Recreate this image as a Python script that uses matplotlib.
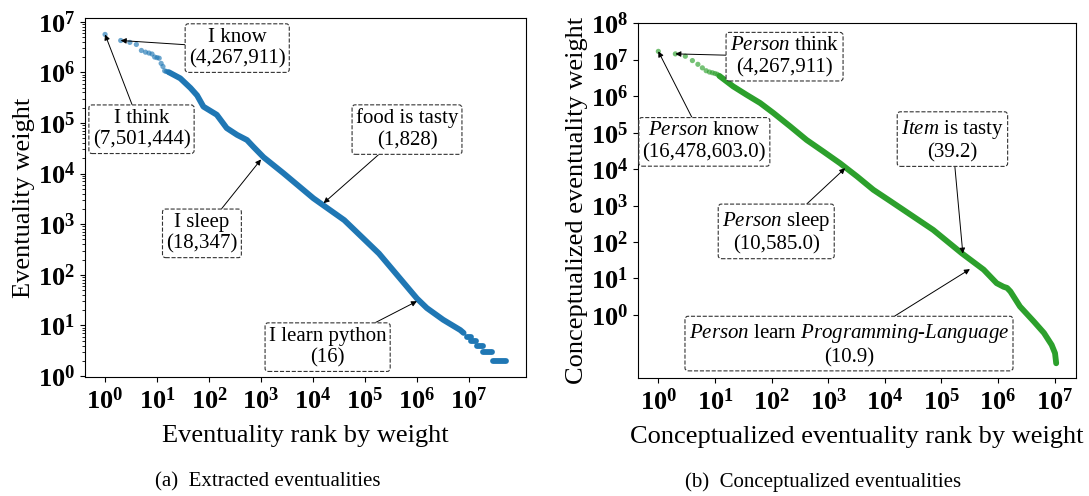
import numpy as np
import matplotlib
matplotlib.use('Agg')
import matplotlib.pyplot as plt
from matplotlib.ticker import FuncFormatter, NullLocator, LogLocator, NullFormatter

plt.rcParams['font.family'] = ['Liberation Serif', 'DejaVu Serif']
plt.rcParams['mathtext.fontset'] = 'custom'
plt.rcParams['mathtext.rm'] = 'Liberation Serif'
plt.rcParams['mathtext.it'] = 'Liberation Serif:italic'
plt.rcParams['mathtext.bf'] = 'Liberation Serif:bold'

##############################################################################
# Data
##############################################################################

# (a) extracted eventualities: first few ranks are separate dots
ext_head_rank = [1, 2, 3, 4, 5, 6, 7, 8, 9, 10, 11, 12, 13, 14, 15, 16, 17]
ext_head_weight = [5.6e6, 4.25e6, 3.9e6, 3.55e6, 2.7e6, 2.5e6, 2.4e6, 2.3e6,
                   2.0e6, 1.95e6, 1.9e6, 1.5e6, 1.3e6, 1.07e6, 1.04e6,
                   1.02e6, 1.0e6]

# dense part of the curve
ext_body_rank = [17, 28, 44, 59, 78, 141, 219, 347, 537, 708, 1120, 2690,
                 1.02e4, 4.0e4, 1.86e5, 1.0e6, 1.55e6, 3.2e6, 6.8e6, 7.9e6]
ext_body_weight = [1.0e6, 7.6e5, 4.9e5, 3.5e5, 2.1e5, 1.45e5, 7.9e4, 5.8e4,
                   4.6e4, 3.4e4, 2.1e4, 1.02e4, 3240, 1200, 263, 34, 22,
                   12.9, 8.1, 7.1]

# integer weights at the tail (plateaus)
ext_step_weight = [6, 5, 4, 3, 2]
ext_step_from = [9.3e6, 1.1e7, 1.41e7, 1.9e7, 2.9e7]
ext_step_to = [1.1e7, 1.38e7, 1.86e7, 2.75e7, 5.2e7]

ext_notes = ['I know\n(4,267,911)', 'I think\n(7,501,444)',
             'I sleep\n(18,347)', 'food is tasty\n(1,828)',
             'I learn python\n(16)']
ext_note_rank = [2, 1, 1000, 1.6e4, 1.0e6]
ext_note_weight = [4.25e6, 5.6e6, 1.9e4, 2.6e3, 30]

# (b) conceptualized eventualities
con_head_rank = [1, 2, 3, 4, 5, 6, 7, 8, 9, 10, 11, 12]
con_head_weight = [1.7e7, 1.45e7, 1.25e7, 9.5e6, 7.5e6, 6.0e6, 5.0e6,
                   4.6e6, 4.4e6, 4.2e6, 4.0e6, 3.6e6]

con_body_rank = [12, 21, 36, 63, 107, 214, 417, 832, 1620, 3240, 6300,
                 1.26e4, 7.2e4, 2.3e5, 5.6e5, 9.5e5, 1.26e6, 1.45e6, 1.66e6,
                 2.45e6, 4.3e6, 6.5e6, 8.9e6, 1.02e7, 1.07e7]
con_body_weight = [3.6e6, 1.86e6, 1.1e6, 6.5e5, 3.5e5, 1.48e5, 6.3e4, 3.0e4,
                   1.45e4, 6300, 2700, 1320, 214, 49, 17.4, 7.4, 5.9, 5.5,
                   4.4, 1.7, 0.66, 0.32, 0.15, 0.089, 0.047]

con_notes = ['$\\it{Person}$ think\n(4,267,911)',
             '$\\it{Person}$ know\n(16,478,603.0)',
             '$\\it{Person}$ sleep\n(10,585.0)',
             '$\\it{Item}$ is tasty\n(39.2)',
             '$\\it{Person}$ learn $\\it{Programming}$-$\\it{Language}$\n(10.9)']
con_note_rank = [2, 1, 2000, 2.4e5, 3.2e5]
con_note_weight = [1.45e7, 1.7e7, 10585, 48, 18]

##############################################################################
# Plotting
##############################################################################

def pow_label(v, pos):
    return r'$\mathbf{10^{%d}}$' % int(round(np.log10(v)))

def note(ax, text, xy, xytext):
    ax.annotate(text, xy=xy, xycoords='data', xytext=xytext,
                textcoords='axes fraction', ha='center', va='center',
                fontsize=15,
                bbox=dict(boxstyle='round,pad=0.18,rounding_size=0.15',
                          fc='white', ec='#333333', ls='--', lw=0.8),
                arrowprops=dict(arrowstyle='-|>', color='black', lw=0.7,
                                mutation_scale=8, shrinkA=0, shrinkB=0))

fig = plt.figure(figsize=(10.89, 4.96), dpi=100)
ax1 = fig.add_axes([0.0781, 0.2393, 0.4050, 0.7238])
ax2 = fig.add_axes([0.5856, 0.2373, 0.4025, 0.7157])

blue = '#1f77b4'
green = '#2ca02c'

# left panel
ax1.plot(ext_body_rank, ext_body_weight, color=blue, lw=4.2,
         solid_capstyle='round')
for w, a, b in zip(ext_step_weight, ext_step_from, ext_step_to):
    ax1.plot([a, b], [w, w], color=blue, lw=4.2, solid_capstyle='round')
ax1.scatter(ext_head_rank, ext_head_weight, s=14, color=blue, alpha=0.65,
            edgecolors='none', zorder=3)
ax1.set_xscale('log')
ax1.set_yscale('log')
ax1.set_xlim(10 ** -0.385, 10 ** 8.10)
ax1.set_ylim(10 ** -0.026, 10 ** 7.067)
ax1.set_xticks([10.0 ** k for k in range(8)])
ax1.set_yticks([10.0 ** k for k in range(8)])
ax1.xaxis.set_minor_locator(NullLocator())
ax1.yaxis.set_minor_locator(LogLocator(base=10, subs=np.arange(2, 10), numticks=20))
ax1.yaxis.set_minor_formatter(NullFormatter())
ax1.xaxis.set_major_formatter(FuncFormatter(pow_label))
ax1.yaxis.set_major_formatter(FuncFormatter(pow_label))
ax1.tick_params(labelsize=19)
ax1.set_xlabel('Eventuality rank by weight', fontsize=19, labelpad=8)
ax1.set_ylabel('Eventuality weight', fontsize=19, labelpad=2)

ext_text_pos = [(0.345, 0.917), (0.128, 0.691), (0.265, 0.401),
                (0.730, 0.690), (0.550, 0.084)]
for t, r, w, p in zip(ext_notes, ext_note_rank, ext_note_weight, ext_text_pos):
    note(ax1, t, (r, w), p)

# right panel
ax2.plot(con_body_rank, con_body_weight, color=green, lw=4.2,
         solid_capstyle='round')
ax2.scatter(con_head_rank, con_head_weight, s=14, color=green, alpha=0.65,
            edgecolors='none', zorder=3)
ax2.set_xscale('log')
ax2.set_yscale('log')
ax2.set_xlim(10 ** -0.364, 10 ** 7.38)
ax2.set_ylim(10 ** -1.74, 1e8)
ax2.set_xticks([10.0 ** k for k in range(8)])
ax2.set_yticks([10.0 ** k for k in range(9)])
ax2.xaxis.set_minor_locator(NullLocator())
ax2.yaxis.set_minor_locator(NullLocator())
ax2.xaxis.set_major_formatter(FuncFormatter(pow_label))
ax2.yaxis.set_major_formatter(FuncFormatter(pow_label))
ax2.tick_params(labelsize=19)
ax2.set_xlabel('Conceptualized eventuality rank by weight', fontsize=19,
               labelpad=8)
ax2.set_ylabel('Conceptualized eventuality weight', fontsize=19, labelpad=2)

con_text_pos = [(0.335, 0.906), (0.152, 0.666), (0.316, 0.411),
                (0.718, 0.671), (0.482, 0.095)]
for t, r, w, p in zip(con_notes, con_note_rank, con_note_weight, con_text_pos):
    note(ax2, t, (r, w), p)

fig.text(267.5 / 1089, 1 - 481.7 / 496, '(a)  Extracted eventualities',
         ha='center', va='center', fontsize=15)
fig.text(823 / 1089, 1 - 481.7 / 496, '(b)  Conceptualized eventualities',
         ha='center', va='center', fontsize=15)

fig.savefig('out.png', dpi=100)
